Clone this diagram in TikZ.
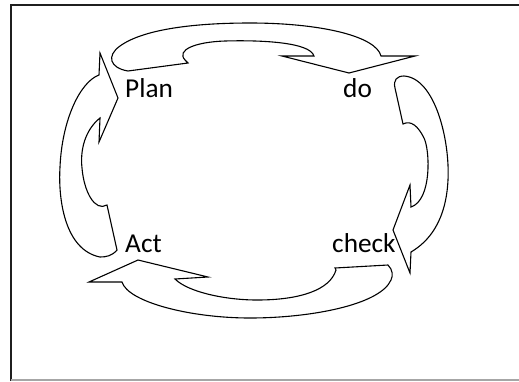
\documentclass[tikz,border=0pt]{standalone}
\usepackage{fontspec}
\setmainfont{Carlito}
\begin{document}
\begin{tikzpicture}[x=1pt,y=-1pt,
  blockarrow/.style={draw=black,line width=1.1pt,line join=miter,fill=white},
  stage/.style={anchor=base west,inner sep=0pt,font=\fontsize{27.3}{31}\selectfont},
  frameline/.style={draw=black!88,line width=2pt}]
\useasboundingbox (0,0) rectangle (519,381);
\fill[white] (0,0) rectangle (519,381);
% page frame
\draw[frameline] (11,381) -- (11,5) -- (519,5);
\draw[black!35,line width=1.5pt] (11,380) -- (519,380);

% Plan -> do (top)
\draw[blockarrow] (128,71)
  .. controls (110,68) and (106,56) .. (120,46)
  .. controls (145,28) and (200,23) .. (250,23)
  .. controls (320,23) and (376,36) .. (381,56)
  -- (415,56) -- (349,73) -- (282,56) -- (314,56)
  .. controls (310,42) and (260,40) .. (225,41)
  .. controls (195,42) and (176,50) .. (185,60)
  -- (188,63) -- cycle;

% do -> check (right)
\draw[blockarrow] (395,88)
  .. controls (393,80) and (397,76) .. (404,76)
  .. controls (435,78) and (450,140) .. (448,180)
  .. controls (446,222) and (428,242) .. (411,252)
  -- (410,273) -- (393,230) -- (410,185) -- (411,207)
  .. controls (432,200) and (430,150) .. (424,138)
  .. controls (418,126) and (411,120) .. (403,124)
  -- cycle;

% check -> Act (bottom)
\draw[blockarrow] (388,265)
  .. controls (393,270) and (393,276) .. (391,280)
  .. controls (380,305) and (310,318) .. (250,318)
  .. controls (190,318) and (128,302) .. (122,282)
  -- (89,282) -- (138,260) -- (208,277) -- (175,279)
  .. controls (188,292) and (225,300) .. (257,300)
  .. controls (300,300) and (330,290) .. (336,270)
  -- (335,268) -- cycle;

% Act -> Plan (left)
\draw[blockarrow] (117,250)
  .. controls (112,256) and (106,257) .. (100,257)
  .. controls (65,250) and (58,200) .. (60,167)
  .. controls (62,120) and (80,82) .. (99,75)
  -- (100,53) -- (118,98) -- (99,142) -- (100,118)
  .. controls (85,130) and (80,150) .. (82,168)
  .. controls (84,192) and (95,212) .. (107,205)
  -- cycle;

% stage labels
\node[stage] (plan) at (125,97) {Plan};
\node[stage] (do) at (343,97) {do};
\node[stage] (act) at (125,252) {Act};
\node[stage] (check) at (332,252) {check};
\end{tikzpicture}
\end{document}
